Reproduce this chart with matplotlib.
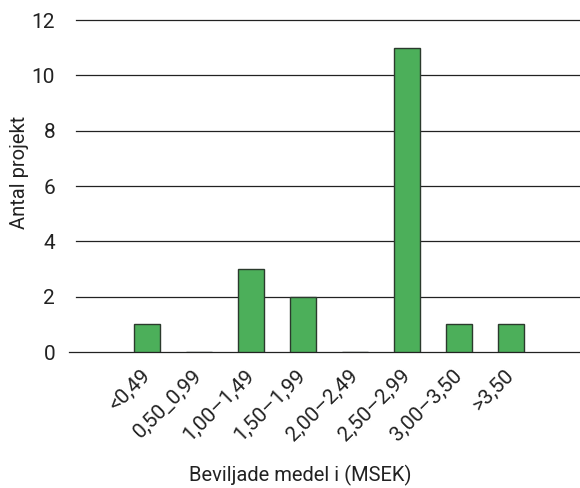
import matplotlib.pyplot as plt
import numpy as np

plt.rcParams['font.family'] = ['Roboto', 'DejaVu Sans']

categories = ["<0,49", "0,50_0,99", "1,00\u20131,49", "1,50\u20131,99", "2,00\u20132,49",
              "2,50\u20132,99", "3,00\u20133,50", ">3,50"]
counts = [1, 0, 3, 2, 0, 11, 1, 1]
yticks = [0, 2, 4, 6, 8, 10, 12]

fig = plt.figure(figsize=(5.8, 4.88), dpi=100)
ax = fig.add_axes([76 / 580, 1 - 352 / 488, 504 / 580, 332 / 488])

x = np.arange(len(categories))
ax.bar(x, counts, width=0.5, color="#4caf5a", edgecolor="#2b3a2d", linewidth=1, zorder=3)

ax.set_xlim(-1.365, 8.33)
ax.set_ylim(0, 12)

# horizontal grid lines, zero line runs a bit further left
for y in yticks:
    ax.axhline(y, xmin=-7 / 504 if y == 0 else 0, xmax=1, color="#222222",
               linewidth=0.9, zorder=1, clip_on=False)

for s in ax.spines.values():
    s.set_visible(False)

ax.set_yticks(yticks)
ax.set_yticklabels([str(v) for v in yticks], fontsize=15, color="#222222")
ax.tick_params(axis='y', length=0, pad=15)
ax.set_xticks(x)
ax.set_xticklabels(categories, rotation=45, ha='right', va='center',
                   rotation_mode='anchor', fontsize=15, color="#222222")
ax.tick_params(axis='x', length=0, pad=15)

fig.text(19.5 / 580, 1 - 172 / 488, "Antal projekt", rotation=90, ha='center', va='center',
         fontsize=14.5, color="#222222")
fig.text(300 / 580, 1 - 475 / 488, "Beviljade medel i (MSEK)", ha='center', va='center',
         fontsize=14.5, color="#222222")

fig.savefig("out.png", dpi=100)
